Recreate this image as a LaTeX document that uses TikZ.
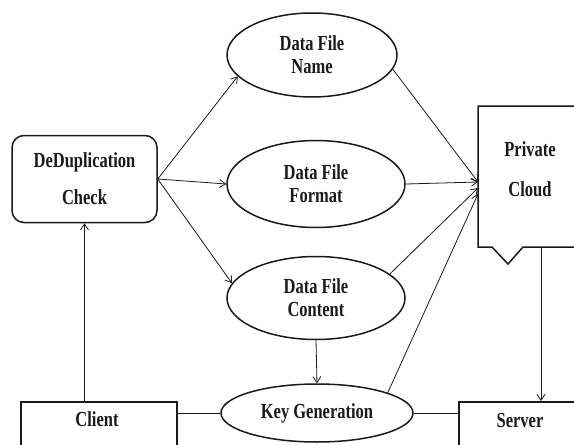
\documentclass[tikz,border=0pt]{standalone}
\usepackage{fontspec}
\setmainfont{Liberation Serif}
\usepackage{graphicx}
\usetikzlibrary{arrows.meta,positioning,shapes.geometric}
\definecolor{Ink}{HTML}{1A1A1A}
\newcommand{\tall}[1]{\scalebox{1}[1.3]{#1}}

\begin{document}
\begin{tikzpicture}[x=1pt, y=-1pt, >={Straight Barb[length=6pt,width=8pt]}, txt/.style={font=\fontsize{16.5}{23}\selectfont\bfseries,align=center,text=Ink}, oval/.style={ellipse,draw=Ink,line width=1.5pt,inner sep=0pt,txt}, box/.style={draw=Ink,line width=1.5pt,inner sep=0pt}, frame/.style={draw=Ink,line width=1.5pt,line join=miter}, arc/.style={->,draw=Ink,line width=0.8pt}, link/.style={draw=Ink,line width=0.8pt}]
\useasboundingbox (0,0) rectangle (574,445);
\clip (0,0) rectangle (574,445);
\fill[white] (0,0) rectangle (574,445);
\node[box,txt,rounded corners=12pt,minimum width=145pt,minimum height=87pt] (dedup) at (84.5,179) {\tall{DeDuplication}\\[14pt]\tall{Check}};
\node[oval,minimum width=170pt,minimum height=84pt] (name) at (312,55) {\tall{Data File}\\\tall{Name}};
\node[oval,minimum width=178pt,minimum height=87pt] (format) at (316,184) {\tall{Data File}\\\tall{Format}};
\node[oval,minimum width=178pt,minimum height=83pt] (content) at (316,298) {\tall{Data File}\\\tall{Content}};
\node[oval,minimum width=192pt,minimum height=58pt] (keygen) at (317,413) {\tall{Key Generation}};
\draw[frame] (478,106) -- (590,106) -- (590,247) -- (523,247) -- (508,264) -- (492,247) -- (478,247) -- cycle;
\node[txt] (cloud) at (530,169) {\tall{Private}\\[17pt]\tall{Cloud}};
\coordinate (cin) at (478,182);
\coordinate (cin2) at (478,188);
\coordinate (cin3) at (478,194);
\coordinate (cbot) at (541,247);
\node[box,anchor=north west,minimum width=156pt,minimum height=80pt] (client) at (20,401) {};
\node[txt] (clientlbl) at (97,419) {\tall{Client}};
\node[box,anchor=north west,minimum width=140pt,minimum height=80pt] (server) at (458,401) {};
\node[txt] (serverlbl) at (520,420) {\tall{Server}};
\draw[arc] (dedup.south |- client.north) -- (dedup.south);
\draw[arc] (dedup.east) -- (name.196);
\draw[arc] (dedup.east) -- (format.west);
\draw[arc] (dedup.east) -- (content.170);
\draw[arc] (name.-10) -- (cin);
\draw[arc] (format.east) -- (cin);
\draw[arc] (content.18) -- (cin2);
\draw[arc] (keygen.16) -- (cin3);
\draw[arc] (content.south) -- (keygen.north);
\draw[link] (client.east |- keygen.west) -- (keygen.west);
\draw[link] (keygen.east) -- (keygen.east -| server.west);
\draw[arc] (cbot) -- (cbot |- server.north);
\end{tikzpicture}
\end{document}
